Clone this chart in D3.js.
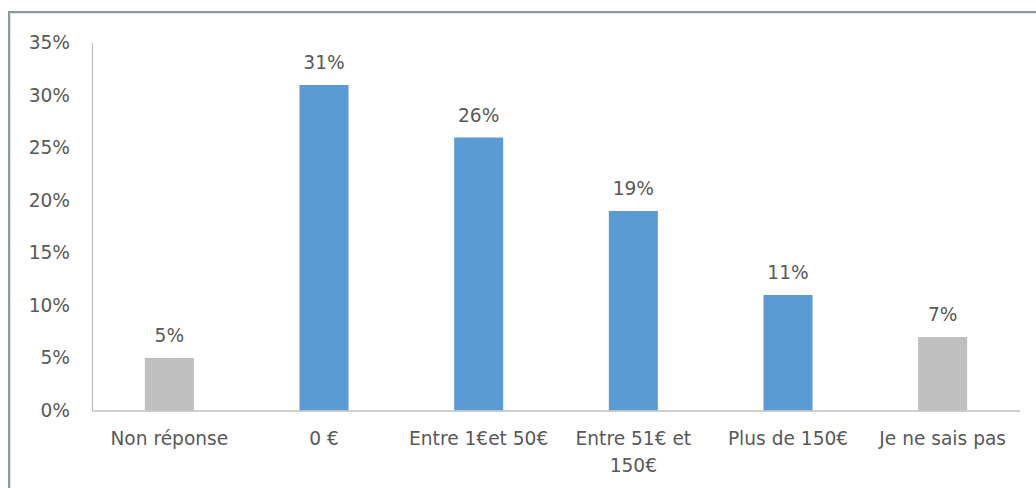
<!DOCTYPE html>
<html>
<head>
<meta charset="utf-8">
<script src="https://cdn.jsdelivr.net/npm/d3@7"></script>
<style>
  html, body { margin: 0; padding: 0; background: #fff; }
  svg { display: block; }
  text { font-family: "DejaVu Sans", Verdana, sans-serif; fill: #595959; }
</style>
</head>
<body>
<svg id="chart" width="1036" height="488"></svg>
<script>
// Survey answers and their share of respondents
const categories = ["Non réponse", "0 €", "Entre 1€et 50€", "Entre 51€ et 150€", "Plus de 150€", "Je ne sais pas"];
const shares = [5, 31, 26, 19, 11, 7];
const kinds = ["other", "amount", "amount", "amount", "amount", "other"];
const yTicks = [0, 5, 10, 15, 20, 25, 30, 35];

const colors = { amount: "#5b9bd5", other: "#bfbfbf" };
const fontSize = 18.6;

const svg = d3.select("#chart");

// Outer frame (top and left edges)
svg.append("rect").attr("x", 10).attr("y", 13).attr("width", 1040).attr("height", 500)
  .attr("fill", "none").attr("stroke", "#e3e6e6").attr("stroke-width", 2);
svg.append("line").attr("x1", 8).attr("x2", 1036).attr("y1", 12).attr("y2", 12)
  .attr("stroke", "#86999f").attr("stroke-width", 2);
svg.append("line").attr("x1", 9).attr("x2", 9).attr("y1", 11).attr("y2", 488)
  .attr("stroke", "#86999f").attr("stroke-width", 2);

const plot = { left: 92, right: 1020, top: 43, bottom: 410.5 };

const x = d3.scaleBand().domain(categories).range([plot.left, plot.right]).padding(0);
const y = d3.scaleLinear().domain([0, 35]).range([plot.bottom, plot.top]);
const barW = x.bandwidth() * 0.317;

// Y axis labels
const yAxis = d3.axisLeft(y).tickValues(yTicks).tickFormat(d => d + "%").tickSize(0).tickPadding(22);
const gy = svg.append("g").attr("transform", `translate(${plot.left},0)`).call(yAxis);
gy.select(".domain").remove();
gy.selectAll("text").attr("font-size", fontSize).attr("fill", "#595959")
  .style("font-family", "'DejaVu Sans', Verdana, sans-serif");

// Vertical axis line
svg.append("line").attr("x1", plot.left + 0.5).attr("x2", plot.left + 0.5)
  .attr("y1", plot.top).attr("y2", plot.bottom).attr("stroke", "#bfbfbf").attr("stroke-width", 1.2);

// Bars
svg.append("g").selectAll("rect").data(categories).join("rect")
  .attr("x", d => x(d) + x.bandwidth() / 2 - barW / 2)
  .attr("y", (d, i) => y(shares[i]))
  .attr("width", barW)
  .attr("height", (d, i) => y(0) - y(shares[i]))
  .attr("fill", (d, i) => colors[kinds[i]]);

// Baseline
svg.append("line").attr("x1", plot.left).attr("x2", plot.right)
  .attr("y1", plot.bottom + 0.5).attr("y2", plot.bottom + 0.5)
  .attr("stroke", "#bfbfbf").attr("stroke-width", 1.4);

// Value labels
svg.append("g").selectAll("text").data(categories).join("text")
  .attr("x", d => x(d) + x.bandwidth() / 2)
  .attr("y", (d, i) => y(shares[i]) - 16)
  .attr("text-anchor", "middle")
  .attr("font-size", fontSize)
  .text((d, i) => shares[i] + "%");

// Category labels, wrapped to the band width
const xAxis = d3.axisBottom(x).tickSize(0).tickPadding(0);
const gx = svg.append("g").attr("transform", `translate(0,${plot.bottom})`).call(xAxis);
gx.select(".domain").remove();
gx.selectAll("text").attr("font-size", fontSize).attr("fill", "#595959")
  .style("font-family", "'DejaVu Sans', Verdana, sans-serif")
  .attr("dy", null).attr("y", 0)
  .each(function (d) {
    const t = d3.select(this);
    const words = d.split(" ");
    t.text(null);
    const maxW = x.bandwidth() * 0.95;
    let line = [];
    const lines = [];
    const probe = t.append("tspan");
    words.forEach(w => {
      const trial = line.concat([w]).join(" ");
      probe.text(trial);
      if (probe.node().getComputedTextLength() > maxW && line.length) {
        lines.push(line.join(" "));
        line = [w];
      } else {
        line.push(w);
      }
    });
    lines.push(line.join(" "));
    probe.remove();
    lines.forEach((l, i) => {
      t.append("tspan").attr("x", 0).attr("y", 34 + i * 27).text(l);
    });
  });
</script>
</body>
</html>
